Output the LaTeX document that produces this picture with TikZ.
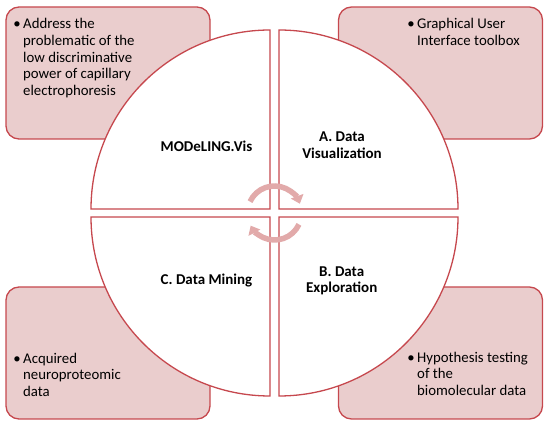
\documentclass[tikz,border=0pt]{standalone}
\usepackage{fontspec}
\setmainfont{Carlito}
\usetikzlibrary{arrows.meta}
\definecolor{boxfill}{RGB}{234,205,205}
\definecolor{boxline}{RGB}{198,72,78}
\definecolor{arrowcol}{RGB}{226,170,170}
\begin{document}
\begin{tikzpicture}[x=1pt,y=1pt,
  infobox/.style={draw=boxline, fill=boxfill, line width=1.3pt, rounded corners=13pt, minimum width=204pt, minimum height=132pt, inner sep=0pt},
  quarter/.style={draw=boxline, fill=white, line width=1.3pt},
  boxtext/.style={anchor=north west, align=left, inner sep=0pt, font=\fontsize{14.8}{16.6}\selectfont},
  label/.style={inner sep=0pt, font=\bfseries\fontsize{15}{16.6}\selectfont, align=center},
  cyc/.style={draw=arrowcol, line width=5.5pt, -{Triangle[length=8pt,width=13pt]}}]
\useasboundingbox (0,0) rectangle (550,426);
% info boxes
\node[infobox] (b1) at (108,353) {};
\node[infobox] (b2) at (440.5,353) {};
\node[infobox] (b3) at (108,73) {};
\node[infobox] (b4) at (440.5,73) {};
% quarter circles
\coordinate (q1) at (270,217);
\coordinate (q2) at (279,217);
\coordinate (q3) at (270,209);
\coordinate (q4) at (279,209);
\draw[quarter] (q1) -- ++(-179,0) arc[start angle=180,end angle=90,radius=179] -- cycle;
\draw[quarter] (q2) -- ++(0,179) arc[start angle=90,end angle=0,radius=179] -- cycle;
\draw[quarter] (q3) -- ++(0,-179) arc[start angle=270,end angle=180,radius=179] -- cycle;
\draw[quarter] (q4) -- ++(179,0) arc[start angle=0,end angle=-90,radius=179] -- cycle;
% cycle arrows
\coordinate (c) at (274.5,213);
\draw[cyc] ([shift={(155:27)}]c) arc[start angle=155,end angle=20,radius=27];
\draw[cyc] ([shift={(-25:27)}]c) arc[start angle=-25,end angle=-152,radius=27];
% box texts
\newcommand{\bul}{\llap{\textbullet\kern2.5pt}}
\node[boxtext] (t1) at (23,407.5) {\bul Address the\\problematic of the\\low discriminative\\power of capillary\\electrophoresis};
\node[boxtext] (t2) at (417,407.5) {\bul Graphical User\\Interface toolbox};
\node[boxtext] (t3) at (23,73.2) {\bul Acquired\\neuroproteomic\\data};
\node[boxtext] (t4) at (417,74.2) {\bul Hypothesis testing\\of the\\biomolecular data};
% labels
\node[label, anchor=base] (l0) at (206.5,274.3) {MODeLING.Vis};
\node[label, anchor=north] (l1) at (342,294.3) {A. Data\\Visualization};
\node[label, anchor=north] (l2) at (341.7,159.7) {B. Data\\Exploration};
\node[label, anchor=base] (l3) at (206.5,141.3) {C. Data Mining};
\end{tikzpicture}
\end{document}
